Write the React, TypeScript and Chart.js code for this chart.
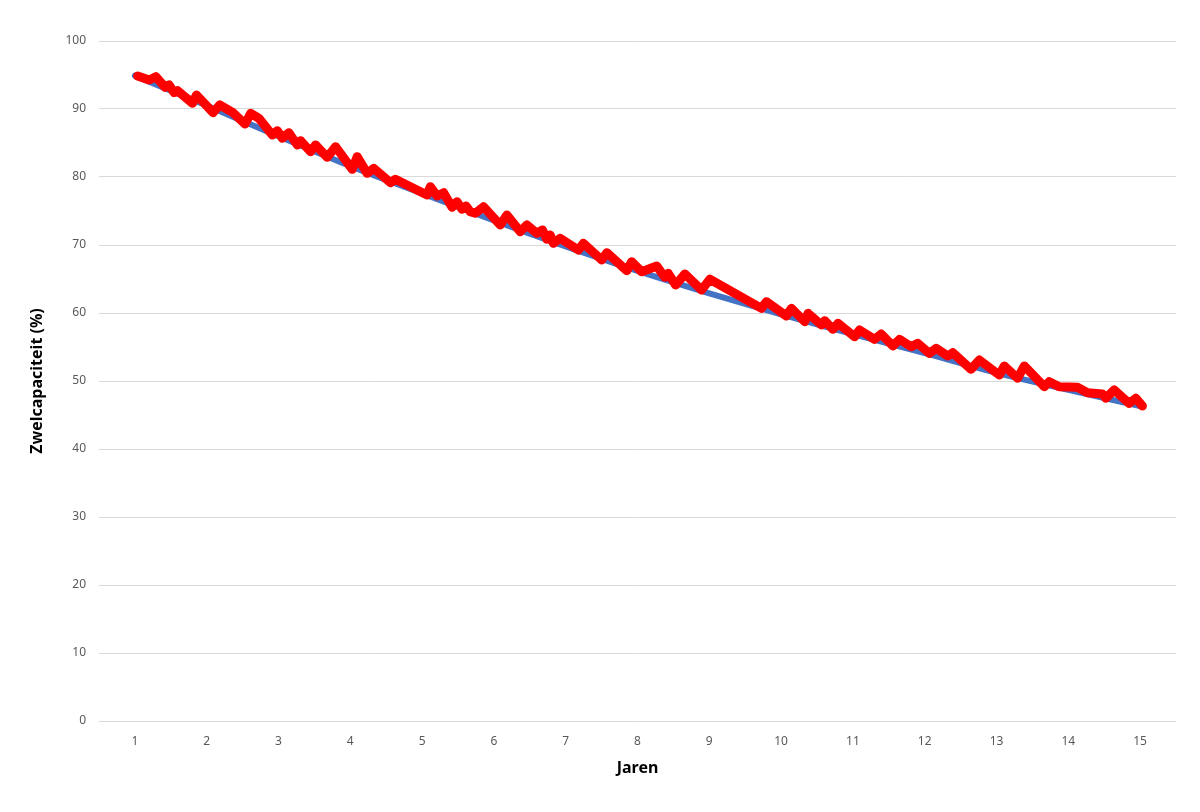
import React, { useEffect, useRef } from "react";
import { Chart, registerables } from "chart.js";

Chart.register(...registerables);

const years = [1, 2, 3, 4, 5, 6, 7, 8, 9, 10, 11, 12, 13, 14, 15];
const trendValues = [94.9, 90.5, 86.0, 81.6, 77.6, 73.6, 69.8, 66.2, 62.9, 59.8, 56.9, 54.1, 51.2, 48.7, 46.3];

const measuredX = [
  1.038, 1.199, 1.292, 1.421, 1.477, 1.546, 1.594, 1.802, 1.858, 2.089,
  2.182, 2.367, 2.533, 2.613, 2.728, 2.914, 2.984, 3.053, 3.145, 3.262,
  3.308, 3.447, 3.516, 3.679, 3.794, 4.027, 4.096, 4.235, 4.327, 4.559,
  4.628, 5.069, 5.115, 5.208, 5.300, 5.417, 5.486, 5.556, 5.611, 5.671,
  5.741, 5.856, 6.088, 6.181, 6.366, 6.459, 6.598, 6.676, 6.738, 6.783,
  6.829, 6.922, 7.177, 7.246, 7.502, 7.572, 7.850, 7.919, 8.058, 8.267,
  8.382, 8.428, 8.531, 8.660, 8.892, 9.008, 9.727, 9.796, 10.074, 10.144,
  10.329, 10.375, 10.561, 10.607, 10.722, 10.792, 11.024, 11.093, 11.302, 11.395,
  11.556, 11.649, 11.812, 11.904, 12.066, 12.159, 12.321, 12.390, 12.646, 12.761,
  13.039, 13.109, 13.294, 13.387, 13.665, 13.735, 13.874, 14.128, 14.267, 14.476,
  14.523, 14.638, 14.847, 14.940, 15.032,
];
const measuredY = [
  94.85, 94.26, 94.75, 93.19, 93.53, 92.40, 92.69, 90.84, 92.06, 89.46,
  90.59, 89.46, 87.79, 89.37, 88.63, 86.18, 86.81, 85.69, 86.51, 84.71,
  85.34, 83.72, 84.71, 82.90, 84.46, 81.13, 82.99, 80.54, 81.28, 79.16,
  79.66, 77.35, 78.57, 77.21, 77.69, 75.54, 76.37, 75.25, 75.74, 74.90,
  74.66, 75.63, 72.94, 74.41, 71.96, 72.94, 71.72, 72.21, 70.84, 71.47,
  70.25, 70.99, 69.26, 70.25, 67.79, 68.87, 66.22, 67.54, 66.07, 66.91,
  65.25, 65.84, 64.12, 65.74, 63.38, 64.96, 60.69, 61.66, 59.56, 60.69,
  58.72, 59.96, 58.24, 58.87, 57.60, 58.49, 56.51, 57.50, 56.13, 56.91,
  55.15, 56.13, 55.04, 55.54, 54.07, 54.81, 53.68, 54.16, 51.72, 53.09,
  50.88, 52.21, 50.40, 52.21, 49.16, 49.90, 49.16, 49.07, 48.28, 48.09,
  47.46, 48.68, 46.72, 47.46, 46.32,
];

const yTicks = [0, 10, 20, 30, 40, 50, 60, 70, 80, 90, 100];
const xTitle = "Jaren";
const yTitle = "Zwelcapaciteit (%)";

export default function App() {
  const ref = useRef<HTMLCanvasElement | null>(null);

  useEffect(() => {
    if (!ref.current) return;
    Chart.defaults.font.family = "'Noto Sans', sans-serif";
    const chart = new Chart(ref.current, {
      type: "line",
      data: {
        datasets: [
          {
            label: "Gemeten",
            data: measuredX.map((x, i) => ({ x, y: measuredY[i] })),
            borderColor: "#FF0000",
            borderWidth: 9,
            borderJoinStyle: "round",
            borderCapStyle: "round",
            pointRadius: 0,
            tension: 0,
            fill: false,
          },
          {
            label: "Trend",
            data: years.map((x, i) => ({ x, y: trendValues[i] })),
            borderColor: "#4472C4",
            borderWidth: 6,
            borderJoinStyle: "round",
            borderCapStyle: "round",
            pointRadius: 0,
            tension: 0.3,
            fill: false,
          },
        ],
      },
      options: {
        animation: false,
        responsive: false,
        maintainAspectRatio: false,
        layout: { padding: { left: 24, right: 24, top: 41, bottom: 30 } },
        plugins: { legend: { display: false }, tooltip: { enabled: false } },
        scales: {
          x: {
            type: "linear",
            min: 0.5,
            max: 15.5,
            afterBuildTicks: (scale: any) => {
              scale.ticks = years.map((v) => ({ value: v }));
            },
            afterFit: (scale: any) => {
              scale.height = 61;
            },
            grid: { display: false, drawTicks: false },
            border: { display: false },
            ticks: {
              color: "#595959",
              font: { size: 12 },
              padding: 13,
              maxRotation: 0,
              autoSkip: false,
              callback: (v: any) => String(v),
            },
            title: {
              display: true,
              text: xTitle,
              color: "#000000",
              font: { size: 16, weight: "bold" },
            },
          },
          y: {
            type: "linear",
            min: 0,
            max: 100,
            afterBuildTicks: (scale: any) => {
              scale.ticks = yTicks.map((v) => ({ value: v }));
            },
            afterFit: (scale: any) => {
              scale.width = 75;
            },
            grid: { color: "#d9d9d9", lineWidth: 1, drawTicks: false },
            border: { display: false },
            ticks: {
              color: "#595959",
              font: { size: 12 },
              padding: 13,
            },
            title: {
              display: true,
              text: yTitle,
              color: "#000000",
              font: { size: 16, weight: "bold" },
            },
          },
        },
      },
    });
    return () => chart.destroy();
  }, []);

  return (
    <div style={{ position: "absolute", left: 0, top: 0, width: 1200, height: 812, background: "#ffffff" }}>
      <canvas ref={ref} width={1200} height={812} style={{ width: 1200, height: 812 }} />
    </div>
  );
}
